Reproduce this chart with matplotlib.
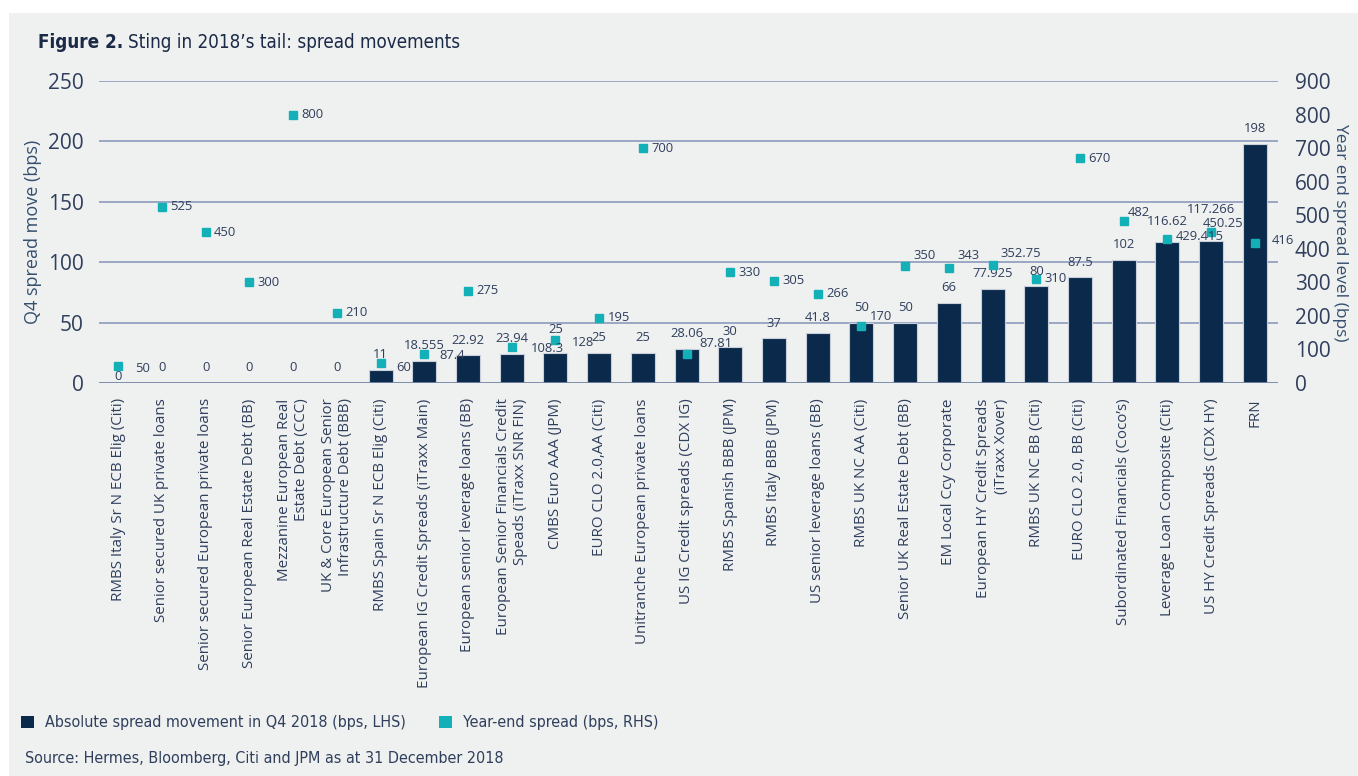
import matplotlib
matplotlib.use("Agg")
import matplotlib.pyplot as plt
from matplotlib.patches import Rectangle

# data
categories = [
    "RMBS Italy Sr N ECB Elig (Citi)",
    "Senior secured UK private loans",
    "Senior secured European private loans",
    "Senior European Real Estate Debt (BB)",
    "Mezzanine European Real\nEstate Debt (CCC)",
    "UK & Core European Senior\nInfrastructure Debt (BBB)",
    "RMBS Spain Sr N ECB Elig (Citi)",
    "European IG Credit Spreads (iTraxx Main)",
    "European senior leverage loans (BB)",
    "European Senior Financials Credit\nSpeads (iTraxx SNR FIN)",
    "CMBS Euro AAA (JPM)",
    "EURO CLO 2.0,AA (Citi)",
    "Unitranche European private loans",
    "US IG Credit spreads (CDX IG)",
    "RMBS Spanish BBB (JPM)",
    "RMBS Italy BBB (JPM)",
    "US senior leverage loans (BB)",
    "RMBS UK NC AA (Citi)",
    "Senior UK Real Estate Debt (BB)",
    "EM Local Ccy Corporate",
    "European HY Credit Spreads\n(iTraxx Xover)",
    "RMBS UK NC BB (Citi)",
    "EURO CLO 2.0, BB (Citi)",
    "Subordinated Financials (Coco\u2019s)",
    "Leverage Loan Composite (Citi)",
    "US HY Credit Spreads (CDX HY)",
    "FRN",
]
q4_move = [0, 0, 0, 0, 0, 0, 11, 18.555, 22.92, 23.94, 25, 25, 25, 28.06,
           30, 37, 41.8, 50, 50, 66, 77.925, 80, 87.5, 102, 116.62, 117.266, 198]
year_end = [50, 525, 450, 300, 800, 210, 60, 87.4, 275, 108.3, 128, 195, 700,
            87.81, 330, 305, 266, 170, 350, 343, 352.75, 310, 670, 482,
            429.415, 450.25, 416]
left_ticks = [0, 50, 100, 150, 200, 250]
right_ticks = [0, 100, 200, 300, 400, 500, 600, 700, 800, 900]

navy = "#0b2a4b"
teal = "#13b1b7"
text_col = "#2f3f5c"
grid_col = "#9ba8c3"
panel = "#eff0f0"
narrow = dict(family="DejaVu Sans", stretch="condensed")

plt.rcParams["font.family"] = ["Open Sans", "DejaVu Sans"]

W, H = 1358, 776
fig = plt.figure(figsize=(W / 100, H / 100), dpi=100)
fig.patch.set_facecolor("white")
fig.add_artist(Rectangle((9 / W, 0), 1, 1 - 13 / H, transform=fig.transFigure,
                         facecolor=panel, edgecolor="none", zorder=-5))

ax = fig.add_axes([99 / W, 1 - 383 / H, (1278 - 99) / W, (383 - 81) / H])
ax.set_facecolor("none")
ax2 = ax.twinx()

x = list(range(len(categories)))
ax.bar(x, q4_move, width=0.55, color=navy, edgecolor="#c9d0dc", linewidth=0.8, zorder=3)
ax2.plot(x, year_end, linestyle="none", marker="s", markersize=5.5,
         color=teal, zorder=4)

ax.set_xlim(-0.44, len(categories) - 0.47)
ax.set_ylim(0, 250)
ax2.set_ylim(0, 900)
ax.set_yticks(left_ticks)
ax2.set_yticks(right_ticks)

for a in (ax, ax2):
    for s in a.spines.values():
        s.set_visible(False)
    a.tick_params(length=0, labelsize=15, labelcolor=text_col)
ax.tick_params(axis="y", pad=11)
ax2.tick_params(axis="y", pad=12)

for t in left_ticks[1:]:
    ax.axhline(t, color=grid_col, linewidth=1.4, zorder=1)
ax.axhline(0, color="#7384a3", linewidth=2, zorder=5)

ax.set_xticks(x)
ax.set_xticklabels(categories, rotation=90, ha="center", va="top",
                   multialignment="right", fontsize=10.9, color=text_col)
ax.tick_params(axis="x", pad=11)

ax.set_ylabel("Q4 spread move (bps)", fontsize=13, color="#34506e", labelpad=4)
ax2.set_ylabel("Year end spread level (bps)", fontsize=12.5, color="#34506e",
               rotation=270, labelpad=13)

# label nudges (points) to mimic the original's collision handling
bar_dy = {0: -6, 10: 6, 24: 4, 25: 12}
pt_shift = {0: (6, -2), 6: (5, -3), 7: (5, -1.5), 9: (8, -1.5), 10: (6, -2),
            13: (3, 7), 17: (0, 7), 18: (0, 7), 19: (0, 9), 20: (0, 8),
            23: (-3, 6.5), 24: (0, 1.5), 25: (-12, 6), 26: (6, 2)}

for i, v in enumerate(q4_move):
    ax.annotate("{:g}".format(v), (i, v), xytext=(0, 11 + bar_dy.get(i, 0)),
                textcoords="offset points", ha="center", va="center",
                fontsize=9.4, color=text_col, zorder=6)
for i, v in enumerate(year_end):
    dx, dy = pt_shift.get(i, (0, 0))
    ax2.annotate("{:g}".format(v), (i, v), xytext=(6 + dx, dy),
                 textcoords="offset points", ha="left", va="center",
                 fontsize=9.4, color=text_col, zorder=6)

# title
t1 = fig.text(38 / W, 1 - 42 / H, "Figure 2.", fontsize=13.5, fontweight="bold",
              color="#1b2a47", va="center", **narrow)
fig.canvas.draw()
bb = t1.get_window_extent()
fig.text((bb.x1 + 5) / W, 1 - 42 / H, "Sting in 2018\u2019s tail: spread movements",
         fontsize=13.5, color="#1b2a47", va="center", **narrow)

# legend
fig.add_artist(Rectangle((21 / W, 1 - 728 / H), 13 / W, 12 / H,
                         transform=fig.transFigure, facecolor=navy, edgecolor="none"))
fig.text(45 / W, 1 - 722 / H, "Absolute spread movement in Q4 2018 (bps, LHS)",
         fontsize=11.5, color=text_col, va="center", **narrow)
fig.add_artist(Rectangle((439 / W, 1 - 728 / H), 13 / W, 12 / H,
                         transform=fig.transFigure, facecolor=teal, edgecolor="none"))
fig.text(463 / W, 1 - 722 / H, "Year-end spread (bps, RHS)",
         fontsize=11.5, color=text_col, va="center", **narrow)

fig.text(25 / W, 1 - 759 / H, "Source: Hermes, Bloomberg, Citi and JPM as at 31 December 2018",
         fontsize=11.5, color=text_col, va="center", **narrow)

fig.savefig("out.png", dpi=100, facecolor=fig.get_facecolor())
